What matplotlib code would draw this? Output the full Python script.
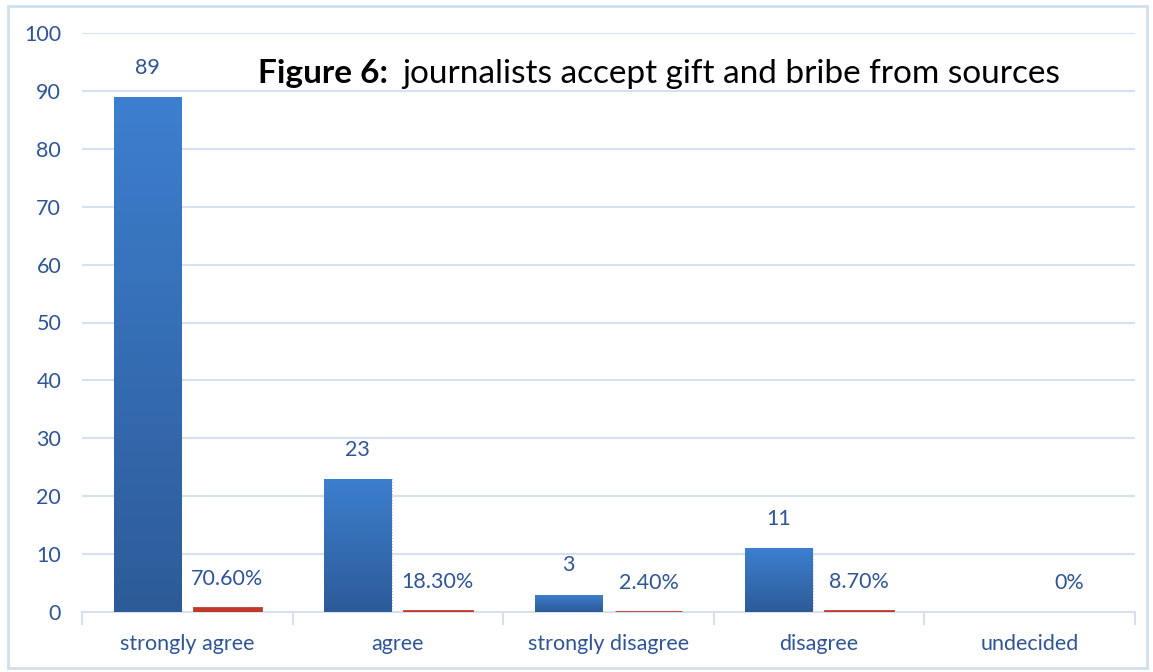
import numpy as np
import matplotlib.pyplot as plt
from matplotlib.patches import Rectangle
from matplotlib.colors import LinearSegmentedColormap

categories = ["strongly agree", "agree", "strongly disagree", "disagree", "undecided"]
counts = [89, 23, 3, 11, 0]
shares = [0.706, 0.183, 0.024, 0.087, 0.0]
share_labels = ["70.60%", "18.30%", "2.40%", "8.70%", "0%"]

plt.rcParams['font.family'] = ['Lato', 'DejaVu Sans']
txt = '#2f5597'
grid_c = '#d5e1f1'
fs = 15.5

fig = plt.figure(figsize=(11.53, 6.72), dpi=100)
ax = fig.add_axes([82 / 1153, 1 - 612 / 672, (1135 - 82) / 1153, (612 - 33) / 672])

x = np.arange(len(categories))
w = 0.32
off = 0.19

blue_cmap = LinearSegmentedColormap.from_list('b', ['#2d5b98', '#3d7fcf'])
grad = np.linspace(0, 1, 256).reshape(-1, 1)

blue = ax.bar(x - off, counts, w, color='none', zorder=3)
for b in blue:
    if b.get_height() <= 0:
        continue
    im = ax.imshow(grad, cmap=blue_cmap, origin='lower', aspect='auto',
                   extent=[b.get_x(), b.get_x() + b.get_width(), 0, b.get_height()], zorder=3)
    im.set_clip_path(b)
    ax.add_patch(Rectangle((b.get_x(), 0), b.get_width(), b.get_height(), fill=False,
                           edgecolor='#c8c8c8', lw=0.8, ls=':', zorder=2))

red = ax.bar(x + off, shares, w, color='#c0392b', zorder=4)
for b, v in zip(red, shares):
    if v > 0:
        b.set_edgecolor('#c0392b')
        b.set_linewidth(2)

for b, v in zip(blue, counts):
    if v > 0:
        ax.annotate(str(v), (b.get_x() + b.get_width() / 2, v), xytext=(0, 21),
                    textcoords='offset points', ha='center', va='center', fontsize=fs, color=txt)
for b, lab in zip(red, share_labels):
    ax.annotate(lab, (b.get_x() + b.get_width() / 2, b.get_height()), xytext=(0, 21),
                textcoords='offset points', ha='center', va='center', fontsize=fs, color=txt)

ax.set_xlim(-0.5, len(categories) - 0.5)
ax.set_ylim(0, 100)
ax.set_yticks(range(0, 101, 10))
ax.yaxis.grid(True, color=grid_c, lw=1.5, zorder=0)
ax.set_axisbelow(True)
for s in ['left', 'right', 'top']:
    ax.spines[s].set_visible(False)
ax.spines['bottom'].set_color(grid_c)
ax.spines['bottom'].set_linewidth(1.5)
ax.tick_params(axis='y', length=0, labelsize=fs, labelcolor=txt, pad=15)
ax.set_xticks(x)
ax.set_xticklabels(categories)
ax.tick_params(axis='x', length=0, labelsize=fs, labelcolor=txt, pad=16)
ax.set_xticks(np.arange(-0.5, len(categories)), minor=True)
ax.tick_params(axis='x', which='minor', length=9, width=1.5, color=grid_c)

t1 = fig.text(258 / 1153, 1 - 74 / 672, "Figure 6:", fontsize=24, fontweight='bold',
              va='center', ha='left')
fig.canvas.draw()
bb = t1.get_window_extent()
fig.text((bb.x1 + 14) / 1153, 1 - 74 / 672, "journalists accept gift and bribe from sources",
         fontsize=24, va='center', ha='left')

fig.patches.append(Rectangle((8 / 1153, 4 / 672), 1139 / 1153, 662 / 672, transform=fig.transFigure,
                             fill=False, edgecolor='#d0dff0', lw=2))

fig.savefig('out.png', dpi=100)
